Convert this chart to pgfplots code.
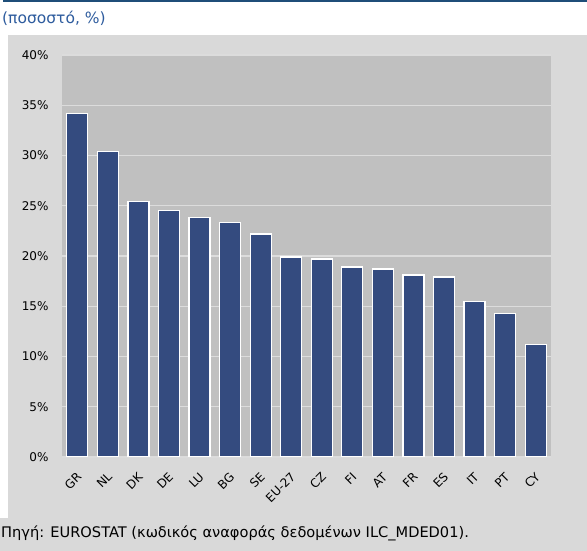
\documentclass[border=0pt]{standalone}
\usepackage{pgfplots}
\pgfplotsset{compat=1.18}
\usepackage{fontspec}
\setmainfont{DejaVu Sans}
\definecolor{barblue}{HTML}{344B7F}
\definecolor{plotbg}{HTML}{C0C0C0}
\definecolor{panelbg}{HTML}{D9D9D9}
\definecolor{gridc}{HTML}{DCDCDC}
\definecolor{titleblue}{HTML}{2E5C9E}
\definecolor{lineblue}{HTML}{1F4E79}
\begin{document}
\begin{tikzpicture}[x=1pt,y=1pt]
\useasboundingbox (0,0) rectangle (587,551);
\fill[white] (0,0) rectangle (587,551);
\fill[lineblue] (3,549) rectangle (587,551);
\fill[panelbg] (8,32) rectangle (587,516);
\fill[panelbg] (0,0) rectangle (587,33);
\node[anchor=base west, text=titleblue, font=\fontsize{15.5}{18}\selectfont, inner sep=0pt] at (2,527) {(ποσοστό, \%)};
\node[anchor=base west, font=\fontsize{14.6}{17}\selectfont, inner sep=0pt] at (1,13) {Πηγή: EUROSTAT (κωδικός αναφοράς δεδομένων ILC\_MDED01).};
\begin{axis}[
  at={(62pt,94pt)}, anchor=south west,
  scale only axis, width=489pt, height=402pt,
  xmin=-0.5, xmax=15.5, ymin=0, ymax=40,
  axis background/.style={fill=plotbg},
  axis line style={draw=none},
  major tick length=0pt,
  ytick={0,5,...,40},
  yticklabels={0\%,5\%,10\%,15\%,20\%,25\%,30\%,35\%,40\%},
  ymajorgrids, grid style={gridc, line width=1.3pt},
  xtick=data,
  xticklabels={GR,NL,DK,DE,LU,BG,SE,EU-27,CZ,FI,AT,FR,ES,IT,PT,CY},
  tick label style={font=\fontsize{12}{14}\selectfont},
  yticklabel style={xshift=-10pt},
  xticklabel style={rotate=45, anchor=east, inner sep=1pt, xshift=-10pt, yshift=-14pt},
  /pgf/number format/assume math mode=true,
]
\addplot[ybar, bar width=21pt, fill=barblue, draw=white, line width=1.3pt] coordinates {
(0,34.2) (1,30.4) (2,25.4) (3,24.5) (4,23.8) (5,23.3) (6,22.2) (7,19.9)
(8,19.7) (9,18.9) (10,18.7) (11,18.1) (12,17.9) (13,15.5) (14,14.3) (15,11.2)
};
\end{axis}
\end{tikzpicture}
\end{document}
